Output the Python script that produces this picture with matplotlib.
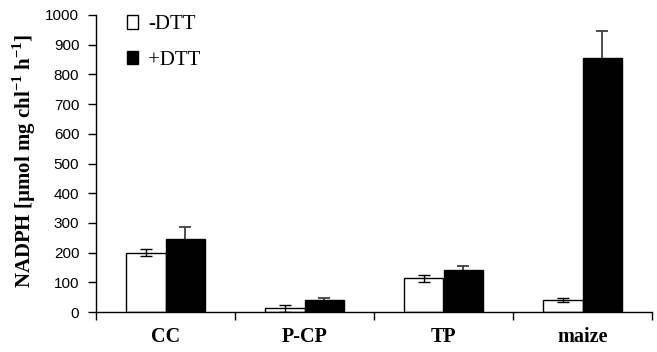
import matplotlib
matplotlib.use("Agg")
import matplotlib.pyplot as plt
from matplotlib.patches import Patch
import numpy as np

# values
categories = ["CC", "P-CP", "TP", "maize"]
minus_dtt = [200, 12, 113, 39]
minus_dtt_err = [12, 12, 12, 7]
plus_dtt = [247, 41, 140, 856]
plus_dtt_err = [40, 7, 14, 91]
yticks = [0, 100, 200, 300, 400, 500, 600, 700, 800, 900, 1000]

serif = "Liberation Serif"
sans = "Liberation Sans"

plt.rcParams["mathtext.fontset"] = "custom"
plt.rcParams["mathtext.rm"] = "Liberation Serif:bold"
plt.rcParams["mathtext.bf"] = "Liberation Serif:bold"

fig = plt.figure(figsize=(6.57, 3.52), dpi=100)
ax = fig.add_axes([96 / 657, 40 / 352, 556 / 657, 297 / 352])

x = np.arange(len(categories))
w = 0.287

ax.bar(x - w / 2, minus_dtt, width=w, color="white", edgecolor="black", linewidth=1.0, zorder=2)
ax.bar(x + w / 2, plus_dtt, width=w, color="black", edgecolor="black", linewidth=1.0, zorder=2)
ax.errorbar(x - w / 2, minus_dtt, yerr=minus_dtt_err, fmt="none", ecolor="black",
            elinewidth=1.0, capsize=4, capthick=1.0, zorder=3)
# drawn behind the black bars so only the upper half shows
ax.errorbar(x + w / 2, plus_dtt, yerr=plus_dtt_err, fmt="none", ecolor="#404040",
            elinewidth=1.3, capsize=4, capthick=1.3, zorder=1)

ax.set_xlim(-0.5, len(categories) - 0.5)
ax.set_ylim(0, 1000)
ax.set_yticks(yticks)
ax.set_yticklabels([str(t) for t in yticks], fontfamily=sans, fontsize=11)

# ticks at category boundaries, labels at the centres
ax.set_xticks(np.arange(len(categories) + 1) - 0.5)
ax.set_xticklabels([])
ax.set_xticks(x, minor=True)
ax.set_xticklabels(categories, minor=True, fontfamily=serif, fontsize=14.5, fontweight="bold")
ax.tick_params(axis="x", which="minor", length=0, pad=11)
ax.tick_params(axis="x", which="major", direction="out", length=6, width=1)
ax.tick_params(axis="y", direction="out", length=6, width=1, pad=6)

for s in ["top", "right"]:
    ax.spines[s].set_visible(False)
for s in ["left", "bottom"]:
    ax.spines[s].set_linewidth(1.0)

ax.set_ylabel("NADPH [µmol mg chl$^{-1}$ h$^{-1}$]", fontfamily=serif, fontsize=15,
              fontweight="bold")
ax.yaxis.set_label_coords(-0.104, 0.51)

handles = [Patch(facecolor="white", edgecolor="black", linewidth=1.0),
           Patch(facecolor="black", edgecolor="black")]
ax.legend(handles, ["-DTT", "+DTT"], loc="upper left", bbox_to_anchor=(0.056, 1.0),
          frameon=False, handlelength=0.52, handleheight=0.62, handletextpad=0.5,
          labelspacing=0.8, borderpad=0, borderaxespad=0,
          prop={"family": serif, "size": 15})

fig.savefig("out.png", dpi=100, facecolor="white")
